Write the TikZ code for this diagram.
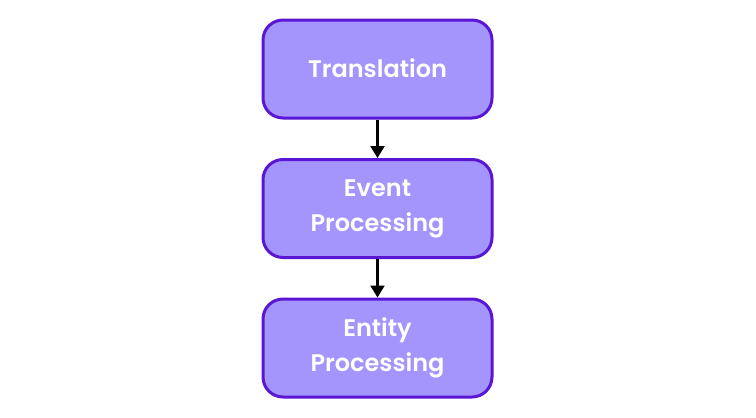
\documentclass[tikz,border=0pt]{standalone}
\usepackage{fontspec}
\setmainfont{Poppins}[BoldFont={* SemiBold}]
\usetikzlibrary{arrows.meta}
\definecolor{boxfill}{HTML}{A395FC}
\definecolor{boxline}{HTML}{5A17D3}
\tikzset{
  stepbox/.style={draw=boxline, fill=boxfill, line width=3pt, rounded corners=20pt,
    minimum width=229pt, minimum height=98pt, align=center, text=white,
    font=\fontsize{24}{35}\selectfont\bfseries, inner sep=0pt},
  link/.style={-{Triangle[length=12pt,width=14pt]}, line width=2.2pt, black}
}
\begin{document}
\begin{tikzpicture}[x=1pt,y=-1pt]
\useasboundingbox (0,0) rectangle (756,418);
\node[stepbox] (t) at (377.5,69) {\raisebox{2pt}{Translation}};
\node[stepbox] (e) at (377.5,208.5) {Event\\Processing};
\node[stepbox] (p) at (377.5,348) {Entity\\Processing};
\draw[link] (t) -- (e);
\draw[link] (e) -- (p);
\end{tikzpicture}
\end{document}
